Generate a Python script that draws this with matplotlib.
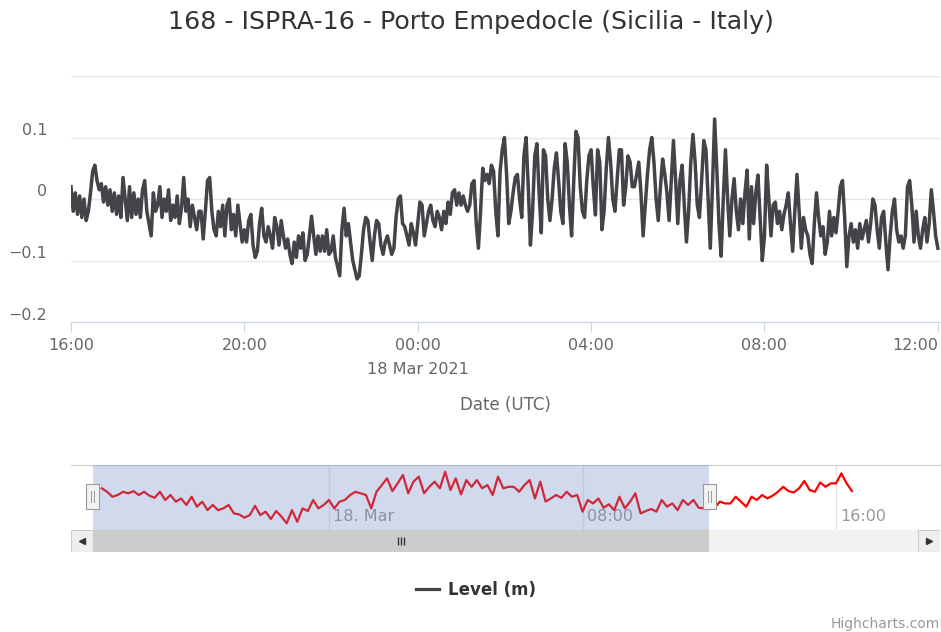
import numpy as np
import matplotlib
matplotlib.use('Agg')
import matplotlib.pyplot as plt
import matplotlib.transforms as mtransforms
from matplotlib.patches import Rectangle
from matplotlib.lines import Line2D

# Sea level (m), one row per hour, a reading every 3 minutes,
# starting 17 Mar 2021 16:00 UTC and ending 18 Mar 2021 12:00 UTC
level_rows = [
    [0.02, -0.02, 0.01, -0.025, 0.005, -0.03, 0.0, -0.035, -0.02, 0.01, 0.045, 0.055, 0.03, 0.015, 0.025, -0.005, 0.02, -0.01, 0.015, -0.02],
    [0.01, -0.025, 0.005, -0.03, 0.035, 0.0, -0.035, 0.02, -0.03, 0.01, -0.025, 0.0, -0.03, 0.015, 0.03, -0.02, -0.04, -0.06, 0.01, -0.02],
    [-0.01, 0.02, -0.03, 0.0, -0.02, 0.015, -0.035, -0.01, -0.03, 0.005, -0.04, -0.015, 0.035, -0.02, 0.0, -0.045, -0.01, -0.03, -0.05, -0.02],
    [-0.02, -0.065, -0.02, 0.03, 0.035, -0.02, -0.05, -0.06, -0.02, -0.045, -0.01, -0.06, -0.01, 0.0, -0.05, -0.025, -0.06, -0.01, -0.04, -0.07],
    [-0.05, -0.07, -0.035, -0.025, -0.075, -0.095, -0.085, -0.04, -0.015, -0.06, -0.07, -0.045, -0.06, -0.08, -0.03, -0.045, -0.075, -0.035, -0.06, -0.08],
    [-0.065, -0.09, -0.105, -0.07, -0.095, -0.06, -0.08, -0.055, -0.1, -0.09, -0.06, -0.028, -0.06, -0.09, -0.06, -0.085, -0.06, -0.085, -0.05, -0.09],
    [-0.085, -0.06, -0.095, -0.11, -0.125, -0.05, -0.015, -0.06, -0.04, -0.07, -0.1, -0.115, -0.13, -0.125, -0.09, -0.05, -0.03, -0.035, -0.07, -0.1],
    [-0.06, -0.035, -0.04, -0.075, -0.09, -0.07, -0.06, -0.075, -0.09, -0.08, -0.03, 0.0, 0.005, -0.04, -0.045, -0.06, -0.075, -0.04, -0.055, -0.075],
    [-0.04, -0.005, -0.01, -0.06, -0.04, -0.02, -0.01, -0.035, -0.045, -0.02, -0.03, -0.05, -0.02, -0.04, -0.005, -0.025, 0.01, 0.015, -0.01, 0.01],
    [-0.01, 0.005, -0.01, -0.02, -0.01, 0.025, 0.03, -0.04, -0.08, -0.02, 0.05, 0.03, 0.04, 0.025, 0.055, 0.045, -0.02, -0.06, 0.045, 0.08],
    [0.1, 0.04, -0.04, -0.02, 0.01, 0.035, 0.04, 0.0, -0.03, 0.07, 0.1, 0.02, -0.075, -0.02, 0.07, 0.09, 0.01, -0.055, 0.08, 0.07],
    [0.0, -0.035, 0.0, 0.05, 0.075, 0.03, -0.02, -0.04, 0.09, 0.06, -0.01, -0.06, 0.03, 0.11, 0.1, 0.02, -0.02, -0.03, 0.03, 0.07],
    [0.08, 0.02, -0.026, 0.08, 0.06, -0.05, -0.02, 0.05, 0.1, 0.06, 0.0, -0.02, 0.03, 0.08, 0.08, -0.01, 0.02, 0.07, 0.06, 0.02],
    [0.02, 0.04, 0.06, 0.01, -0.06, -0.01, 0.04, 0.08, 0.1, 0.06, 0.0, -0.035, 0.02, 0.065, 0.04, 0.01, -0.035, 0.03, 0.095, 0.03],
    [-0.04, 0.03, 0.055, -0.01, -0.07, -0.02, 0.06, 0.105, 0.06, -0.01, -0.03, 0.03, 0.095, 0.08, 0.0, -0.08, 0.02, 0.13, 0.05, -0.04],
    [-0.093, 0.0, 0.08, 0.0, -0.06, 0.0, 0.033, -0.02, -0.05, 0.0, -0.04, 0.01, 0.047, -0.065, 0.02, -0.04, 0.01, 0.039, -0.03, -0.1],
    [-0.06, 0.055, 0.0, -0.06, -0.01, -0.005, -0.04, -0.02, -0.05, -0.025, -0.01, 0.01, -0.04, -0.085, -0.02, 0.04, -0.02, -0.08, -0.03, -0.05],
    [-0.06, -0.09, -0.105, -0.04, 0.01, -0.03, -0.06, -0.045, -0.09, -0.07, -0.02, -0.06, -0.03, -0.055, -0.02, 0.02, 0.03, -0.03, -0.11, -0.06],
    [-0.04, -0.07, -0.05, -0.08, -0.04, -0.065, -0.05, -0.035, -0.07, -0.04, 0.0, -0.01, -0.05, -0.08, -0.03, -0.02, -0.07, -0.115, -0.06, -0.02],
    [0.0, -0.05, -0.07, -0.06, -0.08, -0.06, 0.02, 0.03, -0.01, -0.07, -0.02, -0.06, -0.08, -0.05, -0.03, -0.07, -0.04, 0.015, -0.02, -0.06],
    [-0.08],
]
level = [v for row in level_rows for v in row]
t_main = 16 + np.arange(len(level)) * 3 / 60  # hours since 17 Mar 00:00

# Navigator series (grouped), one value every 10 min from 17 Mar 16:50
nav_level = [
    0.031, 0.015, -0.008, 0.0, 0.015, 0.008, 0.018, 0.0, 0.015, -0.003,
    -0.013, 0.015, -0.023, 0.0, -0.031, -0.016, -0.046, -0.008, -0.054, -0.031,
    -0.070, -0.046, -0.070, -0.062, -0.046, -0.085, -0.090, -0.105, -0.093, -0.050,
    -0.093, -0.077, -0.111, -0.074, -0.100, -0.131, -0.070, -0.124, -0.062, -0.074,
    -0.023, -0.062, -0.046, -0.023, -0.062, -0.031, -0.023, 0.0, 0.015, 0.008,
    0.0, -0.062, 0.015, 0.046, 0.077, 0.018, 0.054, 0.093, 0.008, 0.062,
    0.085, 0.008, 0.038, 0.062, 0.031, 0.108, 0.023, 0.077, 0.003, 0.069,
    0.038, 0.069, 0.031, 0.046, 0.0, 0.085, 0.031, 0.038, 0.038, 0.015,
    0.046, 0.069, -0.016, 0.062, -0.03, -0.016, 0.0, -0.013, 0.015, -0.008,
    0.0, -0.077, -0.023, -0.039, -0.016, -0.059, -0.043, -0.070, -0.008, -0.062,
    -0.031, 0.008, -0.085, -0.074, -0.065, -0.077, -0.023, -0.054, -0.039, -0.070,
    -0.023, -0.046, -0.023, -0.059, -0.062, -0.065, -0.059, -0.031, -0.039, -0.039,
    -0.008, -0.031, -0.054, -0.008, -0.023, 0.0, -0.016, -0.003, 0.015, 0.038,
    0.018, 0.012, 0.031, 0.065, 0.023, 0.015, 0.058, 0.038, 0.054, 0.054,
    0.100, 0.054, 0.018,
]
nav_t = 16 + 50 / 60 + np.arange(len(nav_level)) * 10 / 60

x_ticks = [16, 20, 24, 28, 32, 36]
x_labels = ['16:00', '20:00', '00:00', '04:00', '08:00', '12:00']
y_ticks = [-0.2, -0.1, 0.0, 0.1, 0.2]
y_labels = ['\u22120.2', '\u22120.1', '0', '0.1', '']
nav_ticks = [24, 32, 40]
nav_labels = ['18. Mar', '08:00', '16:00']
sel_start, sel_end = 16.553, 36.0  # selected range shown in navigator

W, H = 941, 632
fig = plt.figure(figsize=(W / 100, H / 100), dpi=100)

# main chart
ax = fig.add_axes([71 / W, 1 - 322 / H, 869 / W, 246 / H])
ax.plot(t_main, level, color='#434348', lw=2.5, solid_joinstyle='round', zorder=3)
ax.set_xlim(16, 36.05)
ax.set_ylim(-0.2, 0.2)
ax.set_xticks(x_ticks)
ax.set_xticklabels(x_labels)
ax.set_yticks(y_ticks)
ax.set_yticklabels(y_labels)
ax.grid(axis='y', color='#e6e6e6', lw=1)
for s in ['top', 'right', 'left']:
    ax.spines[s].set_visible(False)
ax.spines['bottom'].set_color('#ccd6eb')
ax.tick_params(axis='y', length=0, pad=17, labelsize=11.5, labelcolor='#666666')
ax.tick_params(axis='x', length=7.2, width=0.75, color='#ccd6eb', pad=4.5,
               labelsize=11.5, labelcolor='#666666')
up = mtransforms.ScaledTranslation(0, 8.5 / 100, fig.dpi_scale_trans)
for lab in ax.get_yticklabels():
    lab.set_transform(lab.get_transform() + up)
# last label kept inside the chart, like Highcharts does
ax.get_xticklabels()[-1].set_horizontalalignment('right')

ax.annotate('18 Mar 2021', xy=(24, 0), xycoords=('data', 'axes fraction'),
            xytext=(0, -47 * 0.72), textcoords='offset points',
            ha='center', va='center', fontsize=11.5, color='#666666')
ax.set_xlabel('Date (UTC)', fontsize=12, color='#666666')
ax.xaxis.set_label_coords(0.5, -0.3374)
ax.xaxis.label.set_va('center')

fig.text(0.5, 1 - 22 / H, '168 - ISPRA-16 - Porto Empedocle (Sicilia - Italy)',
         ha='center', va='center', fontsize=18.2, color='#333333')

# navigator
nav = fig.add_axes([71 / W, 1 - 530 / H, 869 / W, 65 / H])
nav.set_xlim(15.86, 43.28)
nav.set_ylim(-0.162, 0.139)
nav.plot(nav_t, nav_level, color='#ff0000', lw=1.6, zorder=3)
blend = mtransforms.blended_transform_factory(nav.transData, nav.transAxes)
for h, lab in zip(nav_ticks, nav_labels):
    nav.axvline(h, color='#e6e6e6', lw=1, zorder=1)
    nav.annotate(lab, xy=(h, 0.215), xycoords=('data', 'axes fraction'),
                 xytext=(3, 0), textcoords='offset points', ha='left', va='center',
                 fontsize=11.5, color='#999999', zorder=2)
nav.axvspan(sel_start, sel_end, color=(102 / 255, 133 / 255, 194 / 255), alpha=0.3,
            lw=0, zorder=4)
for hx in (sel_start, sel_end):
    nav.add_patch(Rectangle((hx - 0.205, 0.323), 0.41, 0.385, transform=blend,
                            fc='#f2f2f2', ec='#999999', lw=0.8, zorder=5))
    for dx in (-0.047, 0.047):
        nav.plot([hx + dx, hx + dx], [0.43, 0.6], transform=blend,
                 color='#999999', lw=0.7, zorder=6)
for s in ['bottom', 'right', 'left']:
    nav.spines[s].set_visible(False)
nav.spines['top'].set_color('#cccccc')
nav.set_xticks([])
nav.set_yticks([])

# scrollbar
sb = fig.add_axes([71 / W, 1 - 552 / H, 869 / W, 22 / H])
sb.set_xlim(15.86, 43.28)
sb.set_ylim(0, 1)
sb.set_facecolor('#f2f2f2')
for s in sb.spines.values():
    s.set_visible(False)
sb.set_xticks([])
sb.set_yticks([])
sb.axvspan(sel_start, sel_end, color='#cccccc', lw=0)
bw = 22 / 869
for x0 in (0, 1 - bw):
    sb.add_patch(Rectangle((x0, 0.02), bw, 0.96, transform=sb.transAxes,
                           fc='#eeeeee', ec='#cccccc', lw=0.8, zorder=3))
sb.plot([bw / 2], [0.5], marker='<', ms=4, color='#333333', transform=sb.transAxes, zorder=4)
sb.plot([1 - bw / 2], [0.5], marker='>', ms=4, color='#333333', transform=sb.transAxes, zorder=4)
mid = (sel_start + sel_end) / 2
sb.vlines([mid - 0.095, mid, mid + 0.095], 0.32, 0.68, color='#333333', lw=1)

# legend and credits
fig.legend(handles=[Line2D([], [], color='#434348', lw=2.3)], labels=['Level (m)'],
           loc='center', bbox_to_anchor=(476 / W, 1 - 590 / H), frameon=False,
           handlelength=1.4, handletextpad=0.55,
           prop={'weight': 'bold', 'size': 12}, labelcolor='#333333')
fig.text(940 / W, 1 - 624 / H, 'Highcharts.com', ha='right', va='center',
         fontsize=10, color='#999999')

fig.savefig('out.png', dpi=100)
